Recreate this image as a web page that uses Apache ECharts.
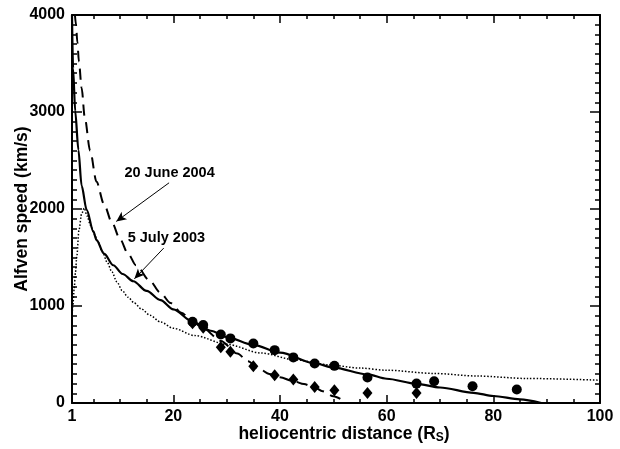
<!DOCTYPE html>
<html><head><meta charset="utf-8">
<script src="https://cdn.jsdelivr.net/npm/echarts@6/dist/echarts.min.js"></script>
<style>html,body{margin:0;padding:0;background:#fff}#c{width:620px;height:449px}</style>
</head><body><div id="c"></div>
<script>
// Tick values
const xMajorTicks = [20, 40, 60, 80];
const xTickLabels = [1, 20, 40, 60, 80, 100];
const xMinorTicks = [5, 10, 15, 25, 30, 35, 45, 50, 55, 65, 70, 75, 85, 90, 95];
const yMajorTicks = [1000, 2000, 3000];
const yTickLabels = [0, 1000, 2000, 3000, 4000];
const yMinorTicks = [100,200,300,400,500,600,700,800,900,1100,1200,1300,1400,1500,1600,1700,1800,1900,2100,2200,2300,2400,2500,2600,2700,2800,2900,3100,3200,3300,3400,3500,3600,3700,3800,3900];

// Model curves
const july2003Curve = [[1,4000],[1.2,3450],[1.6,3010],[2.2,2610],[2.8,2240],[3.75,1990],[5,1770],[5.6,1680],[7,1540],[8.75,1420],[10.5,1330],[12.5,1255],[15,1155],[17.6,1060],[20,965],[23.6,840],[27,745],[30,680],[35,600],[40,520],[46.5,410],[50,365],[56.4,295],[60,250],[65.6,198],[70,160],[76.3,105],[80,72],[85,38],[89,0]];
const june2004Curve = [[1.55,4000],[1.75,3900],[2.0,3720],[2.3,3520],[2.8,3250],[3.4,2940],[4.4,2600],[5.6,2280],[7,2050],[8.5,1860],[10,1690],[11.5,1540],[13,1420],[15.6,1260],[17.5,1140],[19.5,1030],[21.5,930],[23.6,840],[25.6,770],[28.9,640],[32,510],[34,430],[36,355],[38,300],[40,265],[42.5,225],[44.5,195],[46.5,160],[48,120],[50,70],[52.5,0]];
const dottedCurve = [[1,880],[1.15,1000],[1.4,1170],[1.65,1350],[1.9,1510],[2.3,1780],[2.8,1950],[3.3,2010],[3.8,1930],[4.5,1830],[5.2,1740],[5.8,1670],[6.7,1560],[7.6,1450],[8.5,1350],[9.4,1250],[10.4,1160],[11.5,1090],[12.7,1030],[14,970],[15.6,905],[17.6,835],[20,770],[24,695],[30,605],[36.5,515],[42.8,445],[49,395],[55,360],[60,338],[68.8,305],[77,278],[86.3,253],[100,235]];

// Observations
const july2003Points = [[23.6,838],[25.6,804],[28.9,707],[30.7,666],[35.0,614],[39.0,545],[42.5,470],[46.5,407],[50.2,383],[56.4,262],[65.6,200],[68.9,224],[76.1,173],[84.4,139]];
const june2004Points = [[23.6,822],[25.6,775],[28.9,576],[30.7,528],[35.0,380],[39.0,287],[42.5,242],[46.5,166],[50.2,131],[56.4,103],[65.6,103]];

// Annotations (data coordinates)
const annoJune = {text: '20 June 2004', at: [19.3, 2366], from: [19.2, 2270], to: [9.3, 1872]};
const annoJuly = {text: '5 July 2003', at: [18.7, 1701], from: [18.2, 1597], to: [12.7, 1280]};

const FONT = '"Liberation Sans", Arial, Helvetica, sans-serif';
const black = '#000';
const chart = echarts.init(document.getElementById('c'), null, {renderer: 'canvas'});

function axisDef(kind, position, ticks, len, labels, showLine) {
  const isX = kind === 'x';
  return {
    type: 'value', min: isX ? 1 : 0, max: isX ? 100 : 4000, position: position,
    nameMoveOverlap: false,
    axisLine: {show: showLine, onZero: false, lineStyle: {color: black, width: 2}},
    axisTick: {show: true, inside: true, length: len, customValues: ticks, lineStyle: {color: black, width: 1.5}},
    axisLabel: labels ? {show: true, customValues: labels, color: black, fontSize: 16, fontWeight: 'bold', fontFamily: FONT,
      margin: isX ? 6 : 7, hideOverlap: false, formatter: v => String(v)} : {show: false},
    splitLine: {show: false}
  };
}

const xAxes = [
  Object.assign(axisDef('x', 'bottom', xMajorTicks, 8, xTickLabels, true), {
    name: 'heliocentric distance (R{sub|S})', nameLocation: 'middle', nameGap: 21,
    nameTextStyle: {color: black, fontSize: 17.5, fontWeight: 'bold', fontFamily: FONT, lineHeight: 20, padding: [0, 0, 0, 16],
      rich: {sub: {fontSize: 12, fontWeight: 'bold', fontFamily: FONT, color: black, lineHeight: 12, verticalAlign: 'bottom'}}}
  }),
  axisDef('x', 'bottom', xMinorTicks, 4, null, false),
  axisDef('x', 'top', xMajorTicks, 8, null, true),
  axisDef('x', 'top', xMinorTicks, 4, null, false)
];

const yAxes = [
  Object.assign(axisDef('y', 'left', yMajorTicks, 10, yTickLabels, true), {
    name: 'Alfven speed (km/s)', nameLocation: 'middle', nameGap: 41, nameRotate: 90,
    nameTextStyle: {color: black, fontSize: 17.5, fontWeight: 'bold', fontFamily: FONT}
  }),
  axisDef('y', 'left', yMinorTicks, 5, null, false),
  axisDef('y', 'right', yMajorTicks, 10, null, true),
  axisDef('y', 'right', yMinorTicks, 5, null, false)
];

const option = {
  animation: false,
  backgroundColor: '#fff',
  grid: {left: 72, right: 20, top: 15, bottom: 46, containLabel: false, outerBoundsMode: 'none'},
  xAxis: xAxes,
  yAxis: yAxes,
  series: [
    {type: 'line', data: dottedCurve, showSymbol: false, smooth: 0.3, smoothMonotone: 'x',
     lineStyle: {color: black, width: 1.5, type: [1.5, 1.8]}, z: 2},
    {type: 'line', data: june2004Curve, showSymbol: false, smooth: 0.3, smoothMonotone: 'x',
     lineStyle: {color: black, width: 2, type: [11, 7]}, z: 2},
    {type: 'line', data: july2003Curve, showSymbol: false, smooth: 0.3, smoothMonotone: 'x',
     lineStyle: {color: black, width: 2.2}, z: 3,
     markLine: {silent: true, symbol: ['none', 'arrow'], symbolSize: [7, 10], label: {show: false},
       lineStyle: {color: black, width: 1, type: 'solid'},
       data: [
         [{coord: annoJune.from}, {coord: annoJune.to}],
         [{coord: annoJuly.from}, {coord: annoJuly.to}]
       ]}},
    {type: 'scatter', data: july2003Points, symbol: 'circle', symbolSize: 10, itemStyle: {color: black, opacity: 1}, z: 5},
    {type: 'scatter', data: june2004Points, symbol: 'diamond', symbolSize: [10, 12], itemStyle: {color: black, opacity: 1}, z: 5}
  ]
};
chart.setOption(option);

const p1 = chart.convertToPixel({xAxisIndex: 0, yAxisIndex: 0}, annoJune.at);
const p2 = chart.convertToPixel({xAxisIndex: 0, yAxisIndex: 0}, annoJuly.at);
chart.setOption({graphic: [
  {type: 'text', x: p1[0], y: p1[1], style: {text: annoJune.text, align: 'center', verticalAlign: 'middle', font: 'bold 14.5px ' + FONT, fill: black}},
  {type: 'text', x: p2[0], y: p2[1], style: {text: annoJuly.text, align: 'center', verticalAlign: 'middle', font: 'bold 14.5px ' + FONT, fill: black}}
]});
</script>
</body></html>
